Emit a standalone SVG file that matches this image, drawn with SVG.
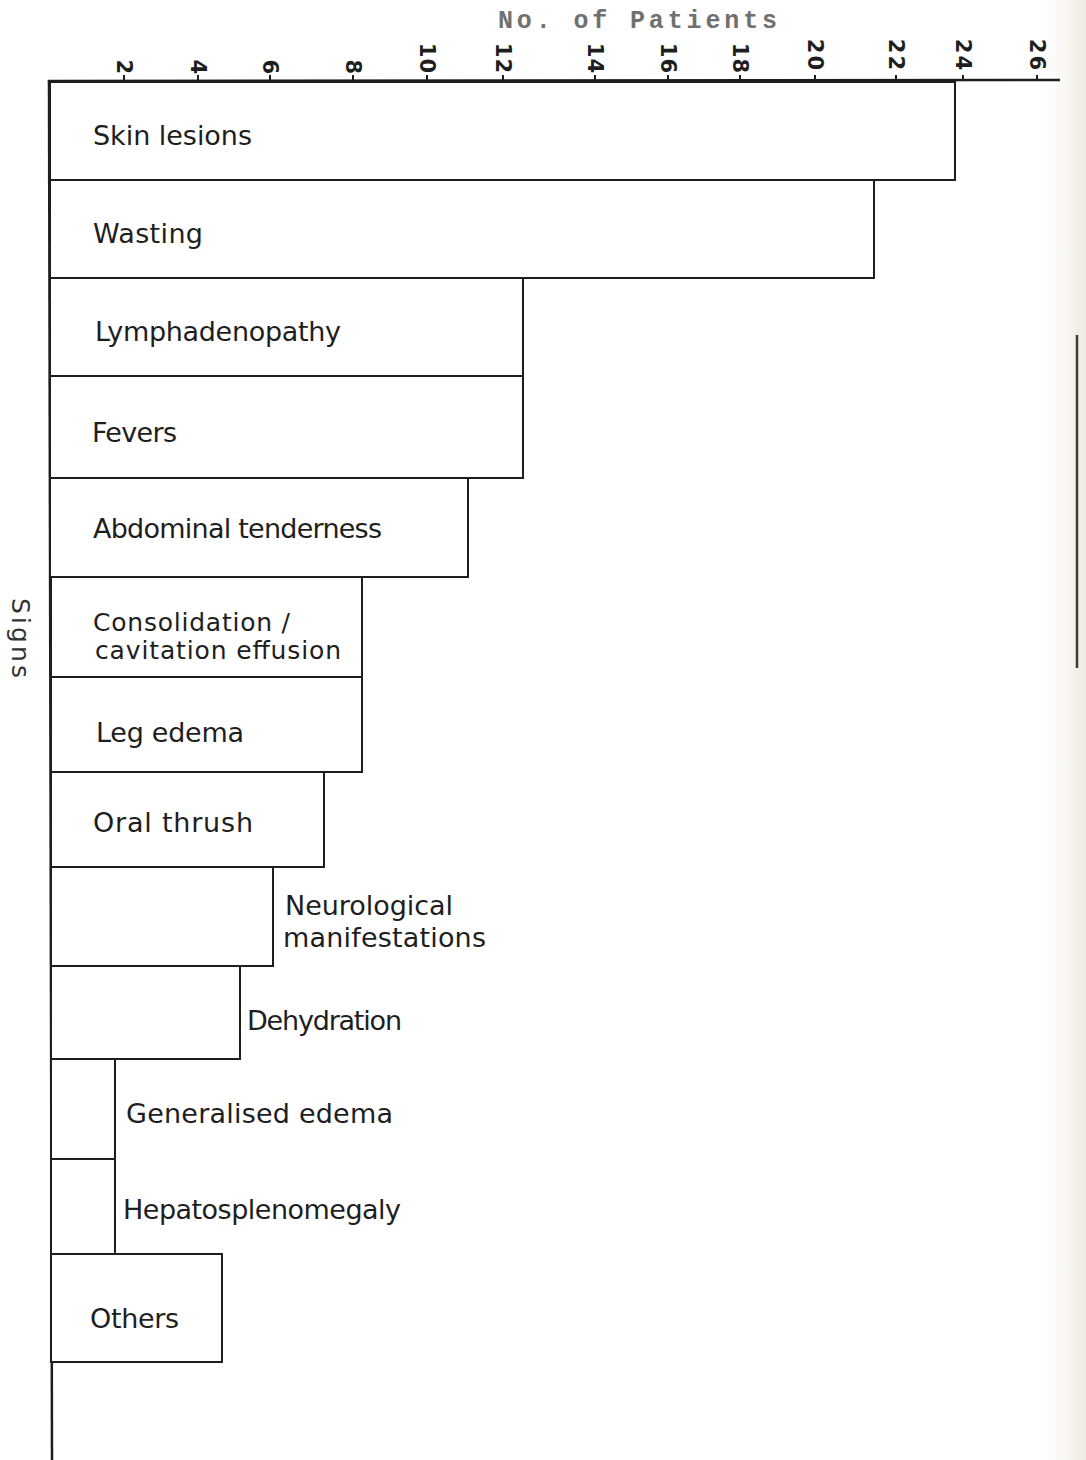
<svg xmlns="http://www.w3.org/2000/svg" width="1086" height="1460" viewBox="0 0 1086 1460">
<defs>
<linearGradient id="edge" x1="0" y1="0" x2="1" y2="0">
<stop offset="0" stop-color="#ffffff" stop-opacity="0"/>
<stop offset="1" stop-color="#efe9df"/>
</linearGradient>
</defs>
<style>
.bar{fill:#ffffff;stroke:#1e1e1e;stroke-width:2}
.ax{stroke:#1e1e1e;stroke-width:2.5;fill:none}
.tk{stroke:#1e1e1e;stroke-width:2}
.lbl{font-family:"DejaVu Sans","Liberation Sans",sans-serif;font-size:27px;fill:#1e1e1e}
.sm{font-size:25px}
.num{font-family:"DejaVu Sans","Liberation Sans",sans-serif;font-size:21px;font-weight:bold;fill:#1e1e1e}
.ttl{font-family:"Liberation Mono","DejaVu Sans Mono",monospace;font-size:25px;font-weight:bold;fill:#707070}
</style>
<rect width="1086" height="1460" fill="#ffffff"/>
<rect x="1030" y="0" width="56" height="1460" fill="url(#edge)"/>
<line x1="1077" y1="335" x2="1077" y2="668" stroke="#3a3a3a" stroke-width="2.5"/>

<g id="axes">
<text class="ttl" x="498" y="28" textLength="279" lengthAdjust="spacing">No. of Patients</text>
<text class="lbl" transform="translate(12,638) rotate(90)" text-anchor="middle" textLength="80" lengthAdjust="spacing" style="font-size:25px;fill:#333">Signs</text>
<path class="ax" d="M48,82 L49,81 L1060,80"/>
<path class="ax" d="M49,82 L52,1460"/>
<g class="tk">
<line x1="124" y1="75" x2="124" y2="81"/>
<line x1="198" y1="75" x2="198" y2="81"/>
<line x1="270" y1="75" x2="270" y2="81"/>
<line x1="353" y1="75" x2="353" y2="81"/>
<line x1="427" y1="75" x2="427" y2="81"/>
<line x1="503" y1="75" x2="503" y2="81"/>
<line x1="595" y1="75" x2="595" y2="81"/>
<line x1="668" y1="75" x2="668" y2="81"/>
<line x1="740" y1="75" x2="740" y2="81"/>
<line x1="815" y1="75" x2="815" y2="81"/>
<line x1="896" y1="75" x2="896" y2="81"/>
<line x1="963" y1="75" x2="963" y2="81"/>
<line x1="1037" y1="75" x2="1037" y2="81"/>
</g>
<g class="num" text-anchor="end" dominant-baseline="central">
<text transform="translate(124,74) rotate(90)">2</text>
<text transform="translate(198,74) rotate(90)">4</text>
<text transform="translate(270,74) rotate(90)">6</text>
<text transform="translate(353,74) rotate(90)">8</text>
<text transform="translate(427,74) rotate(90)" letter-spacing="1">10</text>
<text transform="translate(503,74) rotate(90)" letter-spacing="1">12</text>
<text transform="translate(595,74) rotate(90)" letter-spacing="1">14</text>
<text transform="translate(668,74) rotate(90)" letter-spacing="1">16</text>
<text transform="translate(740,74) rotate(90)" letter-spacing="1">18</text>
<text transform="translate(815,72) rotate(90)" letter-spacing="2">20</text>
<text transform="translate(896,72) rotate(90)" letter-spacing="2">22</text>
<text transform="translate(963,72) rotate(90)" letter-spacing="2">24</text>
<text transform="translate(1037,72) rotate(90)" letter-spacing="2">26</text>
</g>
</g>

<g id="bar-skin-lesions"><rect class="bar" x="50" y="82" width="905" height="98"/><text class="lbl" x="93" y="145" textLength="159" lengthAdjust="spacing">Skin lesions</text></g>
<g id="bar-wasting"><rect class="bar" x="50" y="180" width="824" height="98"/><text class="lbl" x="93" y="243" textLength="110" lengthAdjust="spacing">Wasting</text></g>
<g id="bar-lymphadenopathy"><rect class="bar" x="50" y="278" width="473" height="98"/><text class="lbl" x="95" y="341" textLength="246" lengthAdjust="spacing">Lymphadenopathy</text></g>
<g id="bar-fevers"><rect class="bar" x="50" y="376" width="473" height="102"/><text class="lbl" x="92" y="442" textLength="85" lengthAdjust="spacing">Fevers</text></g>
<g id="bar-abdominal-tenderness"><rect class="bar" x="50" y="478" width="418" height="99"/><text class="lbl" x="93" y="538" textLength="289" lengthAdjust="spacing">Abdominal tenderness</text></g>
<g id="bar-consolidation"><rect class="bar" x="51" y="577" width="311" height="100"/><text class="lbl sm" x="93" y="631" textLength="197" lengthAdjust="spacing">Consolidation /</text><text class="lbl sm" x="95" y="659" textLength="246" lengthAdjust="spacing">cavitation effusion</text></g>
<g id="bar-leg-edema"><rect class="bar" x="51" y="677" width="311" height="95"/><text class="lbl" x="96" y="742" textLength="148" lengthAdjust="spacing">Leg edema</text></g>
<g id="bar-oral-thrush"><rect class="bar" x="51" y="772" width="273" height="95"/><text class="lbl" x="93" y="832" textLength="160" lengthAdjust="spacing">Oral thrush</text></g>
<g id="bar-neurological"><rect class="bar" x="51" y="867" width="222" height="99"/><text class="lbl" x="285" y="915" textLength="168" lengthAdjust="spacing">Neurological</text><text class="lbl" x="283" y="947" textLength="203" lengthAdjust="spacing">manifestations</text></g>
<g id="bar-dehydration"><rect class="bar" x="51" y="966" width="189" height="93"/><text class="lbl" x="247" y="1030" textLength="155" lengthAdjust="spacing">Dehydration</text></g>
<g id="bar-generalised-edema"><rect class="bar" x="51" y="1059" width="64" height="100"/><text class="lbl" x="126" y="1123" textLength="267" lengthAdjust="spacing">Generalised edema</text></g>
<g id="bar-hepatosplenomegaly"><rect class="bar" x="51" y="1159" width="64" height="95"/><text class="lbl" x="123" y="1219" textLength="278" lengthAdjust="spacing">Hepatosplenomegaly</text></g>
<g id="bar-others"><rect class="bar" x="51" y="1254" width="171" height="108"/><text class="lbl" x="90" y="1328" textLength="89" lengthAdjust="spacing">Others</text></g>
</svg>
